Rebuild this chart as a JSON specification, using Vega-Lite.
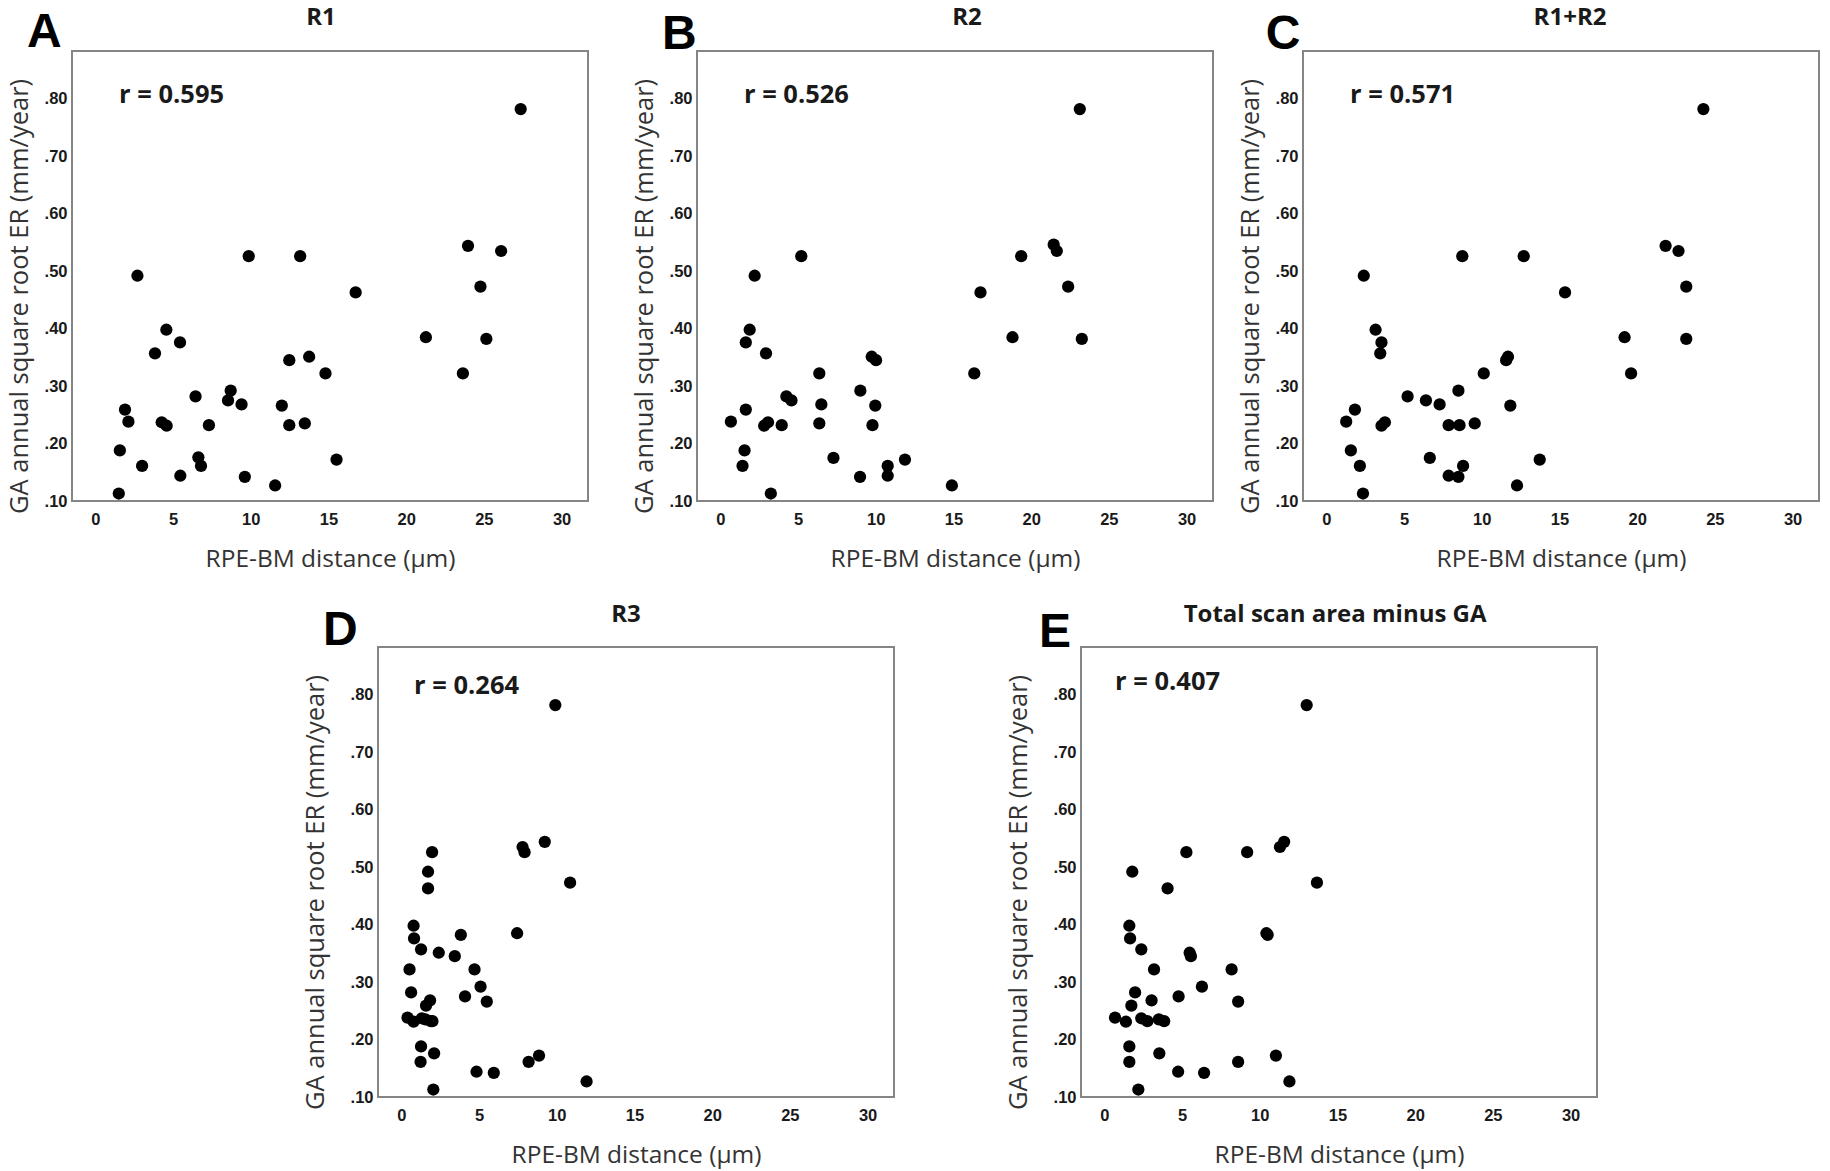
{
  "$schema": "https://vega.github.io/schema/vega-lite/v6.json",
  "background": "white",
  "padding": {"left": 5, "top": 4, "right": 5, "bottom": 5},
  "config": {
    "view": {"stroke": "#858585", "strokeWidth": 2},
    "axis": {"grid": false, "ticks": false, "domain": false, "labelFont": "Liberation Sans", "labelFontWeight": "bold", "labelFontSize": 16.5, "labelColor": "#1a1a1a", "titleFont": "Open Sans", "titleFontWeight": "normal", "titleFontSize": 24.5, "titleColor": "#333333"},
    "axisY": {"titleFontSize": 25.5},
    "text": {"color": "#1a1a1a"}
  },
  "datasets": {
    "pts": [
      {"panel":"A","distance":27.37,"er":0.782},{"panel":"A","distance":23.98,"er":0.544},{"panel":"A","distance":26.11,"er":0.535},{"panel":"A","distance":9.87,"er":0.526},{"panel":"A","distance":13.18,"er":0.526},{"panel":"A","distance":2.71,"er":0.492},{"panel":"A","distance":24.78,"er":0.473},{"panel":"A","distance":16.75,"er":0.463},{"panel":"A","distance":4.57,"er":0.398},{"panel":"A","distance":5.45,"er":0.376},{"panel":"A","distance":21.27,"er":0.385},{"panel":"A","distance":25.16,"er":0.382},{"panel":"A","distance":3.84,"er":0.357},{"panel":"A","distance":13.76,"er":0.351},{"panel":"A","distance":12.48,"er":0.345},{"panel":"A","distance":14.81,"er":0.322},{"panel":"A","distance":23.65,"er":0.322},{"panel":"A","distance":6.45,"er":0.282},{"panel":"A","distance":8.71,"er":0.292},{"panel":"A","distance":8.54,"er":0.275},{"panel":"A","distance":9.41,"er":0.268},{"panel":"A","distance":12.0,"er":0.266},{"panel":"A","distance":1.91,"er":0.259},{"panel":"A","distance":2.13,"er":0.238},{"panel":"A","distance":4.27,"er":0.237},{"panel":"A","distance":4.59,"er":0.231},{"panel":"A","distance":7.31,"er":0.232},{"panel":"A","distance":12.48,"er":0.232},{"panel":"A","distance":13.48,"er":0.235},{"panel":"A","distance":1.58,"er":0.188},{"panel":"A","distance":6.63,"er":0.176},{"panel":"A","distance":6.80,"er":0.161},{"panel":"A","distance":3.01,"er":0.161},{"panel":"A","distance":15.52,"er":0.172},{"panel":"A","distance":5.47,"er":0.144},{"panel":"A","distance":9.62,"er":0.142},{"panel":"A","distance":11.57,"er":0.127},{"panel":"A","distance":1.51,"er":0.113},
      {"panel":"B","distance":23.13,"er":0.782},{"panel":"B","distance":21.45,"er":0.546},{"panel":"B","distance":21.65,"er":0.535},{"panel":"B","distance":19.36,"er":0.526},{"panel":"B","distance":5.21,"er":0.526},{"panel":"B","distance":2.21,"er":0.492},{"panel":"B","distance":22.38,"er":0.473},{"panel":"B","distance":16.74,"er":0.463},{"panel":"B","distance":1.89,"er":0.398},{"panel":"B","distance":1.64,"er":0.376},{"panel":"B","distance":18.80,"er":0.385},{"panel":"B","distance":23.26,"er":0.382},{"panel":"B","distance":2.94,"er":0.357},{"panel":"B","distance":9.74,"er":0.351},{"panel":"B","distance":10.02,"er":0.345},{"panel":"B","distance":6.37,"er":0.322},{"panel":"B","distance":16.34,"er":0.322},{"panel":"B","distance":9.01,"er":0.292},{"panel":"B","distance":4.25,"er":0.282},{"panel":"B","distance":4.58,"er":0.275},{"panel":"B","distance":6.50,"er":0.268},{"panel":"B","distance":9.97,"er":0.266},{"panel":"B","distance":1.64,"er":0.259},{"panel":"B","distance":0.68,"er":0.238},{"panel":"B","distance":3.07,"er":0.237},{"panel":"B","distance":2.82,"er":0.231},{"panel":"B","distance":3.95,"er":0.232},{"panel":"B","distance":6.37,"er":0.235},{"panel":"B","distance":9.79,"er":0.232},{"panel":"B","distance":1.56,"er":0.188},{"panel":"B","distance":7.28,"er":0.175},{"panel":"B","distance":1.43,"er":0.161},{"panel":"B","distance":10.77,"er":0.161},{"panel":"B","distance":11.88,"er":0.172},{"panel":"B","distance":10.77,"er":0.144},{"panel":"B","distance":8.99,"er":0.142},{"panel":"B","distance":14.90,"er":0.127},{"panel":"B","distance":3.25,"er":0.113},
      {"panel":"C","distance":24.26,"er":0.782},{"panel":"C","distance":21.83,"er":0.544},{"panel":"C","distance":22.66,"er":0.535},{"panel":"C","distance":8.75,"er":0.526},{"panel":"C","distance":12.70,"er":0.526},{"panel":"C","distance":2.41,"er":0.492},{"panel":"C","distance":23.16,"er":0.473},{"panel":"C","distance":15.36,"er":0.463},{"panel":"C","distance":3.17,"er":0.398},{"panel":"C","distance":3.55,"er":0.376},{"panel":"C","distance":19.19,"er":0.385},{"panel":"C","distance":23.16,"er":0.382},{"panel":"C","distance":3.47,"er":0.357},{"panel":"C","distance":11.69,"er":0.351},{"panel":"C","distance":11.57,"er":0.345},{"panel":"C","distance":10.13,"er":0.322},{"panel":"C","distance":19.61,"er":0.322},{"panel":"C","distance":8.50,"er":0.292},{"panel":"C","distance":5.23,"er":0.282},{"panel":"C","distance":6.41,"er":0.275},{"panel":"C","distance":7.29,"er":0.268},{"panel":"C","distance":11.84,"er":0.266},{"panel":"C","distance":1.84,"er":0.259},{"panel":"C","distance":1.28,"er":0.238},{"panel":"C","distance":3.77,"er":0.237},{"panel":"C","distance":3.55,"er":0.231},{"panel":"C","distance":7.87,"er":0.232},{"panel":"C","distance":8.57,"er":0.232},{"panel":"C","distance":9.55,"er":0.235},{"panel":"C","distance":1.58,"er":0.188},{"panel":"C","distance":6.66,"er":0.175},{"panel":"C","distance":2.16,"er":0.161},{"panel":"C","distance":8.80,"er":0.161},{"panel":"C","distance":13.73,"er":0.172},{"panel":"C","distance":7.87,"er":0.144},{"panel":"C","distance":8.50,"er":0.142},{"panel":"C","distance":12.27,"er":0.127},{"panel":"C","distance":2.36,"er":0.113},
      {"panel":"D","distance":9.91,"er":0.782},{"panel":"D","distance":9.23,"er":0.544},{"panel":"D","distance":7.80,"er":0.535},{"panel":"D","distance":7.93,"er":0.526},{"panel":"D","distance":1.98,"er":0.526},{"panel":"D","distance":1.72,"er":0.492},{"panel":"D","distance":10.86,"er":0.473},{"panel":"D","distance":1.72,"er":0.463},{"panel":"D","distance":0.79,"er":0.398},{"panel":"D","distance":7.45,"er":0.385},{"panel":"D","distance":3.83,"er":0.382},{"panel":"D","distance":0.82,"er":0.376},{"panel":"D","distance":1.27,"er":0.357},{"panel":"D","distance":2.41,"er":0.351},{"panel":"D","distance":3.44,"er":0.345},{"panel":"D","distance":0.53,"er":0.322},{"panel":"D","distance":4.71,"er":0.322},{"panel":"D","distance":5.10,"er":0.292},{"panel":"D","distance":0.63,"er":0.282},{"panel":"D","distance":4.10,"er":0.275},{"panel":"D","distance":1.85,"er":0.268},{"panel":"D","distance":5.50,"er":0.266},{"panel":"D","distance":1.59,"er":0.259},{"panel":"D","distance":0.40,"er":0.238},{"panel":"D","distance":1.32,"er":0.237},{"panel":"D","distance":0.79,"er":0.231},{"panel":"D","distance":1.90,"er":0.232},{"panel":"D","distance":1.55,"er":0.235},{"panel":"D","distance":2.00,"er":0.232},{"panel":"D","distance":1.27,"er":0.188},{"panel":"D","distance":2.11,"er":0.176},{"panel":"D","distance":8.86,"er":0.172},{"panel":"D","distance":1.24,"er":0.161},{"panel":"D","distance":8.19,"er":0.161},{"panel":"D","distance":4.84,"er":0.144},{"panel":"D","distance":5.95,"er":0.142},{"panel":"D","distance":11.92,"er":0.127},{"panel":"D","distance":2.06,"er":0.113},
      {"panel":"E","distance":13.02,"er":0.782},{"panel":"E","distance":11.57,"er":0.544},{"panel":"E","distance":11.30,"er":0.535},{"panel":"E","distance":5.28,"er":0.526},{"panel":"E","distance":9.19,"er":0.526},{"panel":"E","distance":1.80,"er":0.492},{"panel":"E","distance":13.68,"er":0.473},{"panel":"E","distance":4.07,"er":0.463},{"panel":"E","distance":1.61,"er":0.398},{"panel":"E","distance":10.43,"er":0.385},{"panel":"E","distance":10.51,"er":0.382},{"panel":"E","distance":1.66,"er":0.376},{"panel":"E","distance":2.38,"er":0.357},{"panel":"E","distance":5.49,"er":0.351},{"panel":"E","distance":5.57,"er":0.345},{"panel":"E","distance":3.20,"er":0.322},{"panel":"E","distance":8.19,"er":0.322},{"panel":"E","distance":6.28,"er":0.292},{"panel":"E","distance":1.98,"er":0.282},{"panel":"E","distance":4.78,"er":0.275},{"panel":"E","distance":3.04,"er":0.268},{"panel":"E","distance":8.61,"er":0.266},{"panel":"E","distance":1.74,"er":0.259},{"panel":"E","distance":0.69,"er":0.238},{"panel":"E","distance":2.38,"er":0.237},{"panel":"E","distance":1.39,"er":0.231},{"panel":"E","distance":2.77,"er":0.232},{"panel":"E","distance":3.51,"er":0.235},{"panel":"E","distance":3.85,"er":0.232},{"panel":"E","distance":1.61,"er":0.188},{"panel":"E","distance":3.54,"er":0.176},{"panel":"E","distance":11.04,"er":0.172},{"panel":"E","distance":1.61,"er":0.161},{"panel":"E","distance":8.61,"er":0.161},{"panel":"E","distance":4.75,"er":0.144},{"panel":"E","distance":6.42,"er":0.142},{"panel":"E","distance":11.91,"er":0.127},{"panel":"E","distance":2.19,"er":0.113}
    ]
  },
  "spacing": 29,
  "vconcat": [
    {
      "bounds": "flush",
      "spacing": 109,
      "hconcat": [
        {
          "width": 516, "height": 450,
          "layer": [
            {"data": {"name": "pts"}, "transform": [{"filter": "datum.panel == 'A'"}],
             "mark": {"type": "point", "filled": true, "size": 150, "color": "#000000", "opacity": 1},
             "encoding": {
               "x": {"field": "distance", "type": "quantitative", "scale": {"domain": [-1.5, 31.7], "nice": false, "zero": false}, "axis": {"values": [0,5,10,15,20,25,30], "title": "RPE-BM distance (µm)", "labelPadding": 10, "titlePadding": 20}},
               "y": {"field": "er", "type": "quantitative", "scale": {"domain": [0.1, 0.883], "nice": false, "zero": false}, "axis": {"values": [0.1,0.2,0.3,0.4,0.5,0.6,0.7,0.8], "labelExpr": "'.' + format(datum.value*100, '.0f')", "title": "GA annual square root ER (mm/year)", "titleX": -53, "titleY": 245, "titleAngle": -90, "titleBaseline": "middle", "titleAlign": "center", "labelPadding": 5}}
             }},
            {"data": {"values": [{"label": "R1"}]},
             "mark": {"type": "text", "align": "center", "baseline": "middle", "font": "Open Sans", "fontWeight": "bold", "fontSize": 24},
             "encoding": {"x": {"datum": 14.52}, "y": {"datum": 0.941}, "text": {"field": "label"}}},
            {"data": {"values": [{"label": "r = 0.595"}]},
             "mark": {"type": "text", "align": "left", "baseline": "middle", "font": "Open Sans", "fontWeight": "bold", "fontSize": 25.5},
             "encoding": {"x": {"datum": 1.53}, "y": {"datum": 0.807}, "text": {"field": "label"}}},
            {"data": {"values": [{"label": "A"}]},
             "mark": {"type": "text", "align": "left", "baseline": "alphabetic", "font": "Liberation Sans", "fontWeight": "bold", "fontSize": 48, "color": "#000000"},
             "encoding": {"x": {"datum": -4.4}, "y": {"datum": 0.89}, "text": {"field": "label"}}}
          ]
        },
        {
          "bounds": "flush",
          "spacing": 90,
          "hconcat": [
            {
              "width": 516, "height": 450,
              "layer": [
                {"data": {"name": "pts"}, "transform": [{"filter": "datum.panel == 'B'"}],
                 "mark": {"type": "point", "filled": true, "size": 150, "color": "#000000", "opacity": 1},
                 "encoding": {
                   "x": {"field": "distance", "type": "quantitative", "scale": {"domain": [-1.5, 31.7], "nice": false, "zero": false}, "axis": {"values": [0,5,10,15,20,25,30], "title": "RPE-BM distance (µm)", "labelPadding": 10, "titlePadding": 20}},
                   "y": {"field": "er", "type": "quantitative", "scale": {"domain": [0.1, 0.883], "nice": false, "zero": false}, "axis": {"values": [0.1,0.2,0.3,0.4,0.5,0.6,0.7,0.8], "labelExpr": "'.' + format(datum.value*100, '.0f')", "title": "GA annual square root ER (mm/year)", "titleX": -53, "titleY": 245, "titleAngle": -90, "titleBaseline": "middle", "titleAlign": "center", "labelPadding": 5}}
                 }},
                {"data": {"values": [{"label": "R2"}]},
                 "mark": {"type": "text", "align": "center", "baseline": "middle", "font": "Open Sans", "fontWeight": "bold", "fontSize": 24},
                 "encoding": {"x": {"datum": 15.87}, "y": {"datum": 0.941}, "text": {"field": "label"}}},
                {"data": {"values": [{"label": "r = 0.526"}]},
                 "mark": {"type": "text", "align": "left", "baseline": "middle", "font": "Open Sans", "fontWeight": "bold", "fontSize": 25.5},
                 "encoding": {"x": {"datum": 1.52}, "y": {"datum": 0.807}, "text": {"field": "label"}}},
                {"data": {"values": [{"label": "B"}]},
                 "mark": {"type": "text", "align": "left", "baseline": "alphabetic", "font": "Liberation Sans", "fontWeight": "bold", "fontSize": 48, "color": "#000000"},
                 "encoding": {"x": {"datum": -3.75}, "y": {"datum": 0.887}, "text": {"field": "label"}}}
              ]
            },
            {
              "width": 516, "height": 450,
              "layer": [
                {"data": {"name": "pts"}, "transform": [{"filter": "datum.panel == 'C'"}],
                 "mark": {"type": "point", "filled": true, "size": 150, "color": "#000000", "opacity": 1},
                 "encoding": {
                   "x": {"field": "distance", "type": "quantitative", "scale": {"domain": [-1.5, 31.7], "nice": false, "zero": false}, "axis": {"values": [0,5,10,15,20,25,30], "title": "RPE-BM distance (µm)", "labelPadding": 10, "titlePadding": 20}},
                   "y": {"field": "er", "type": "quantitative", "scale": {"domain": [0.1, 0.883], "nice": false, "zero": false}, "axis": {"values": [0.1,0.2,0.3,0.4,0.5,0.6,0.7,0.8], "labelExpr": "'.' + format(datum.value*100, '.0f')", "title": "GA annual square root ER (mm/year)", "titleX": -53, "titleY": 245, "titleAngle": -90, "titleBaseline": "middle", "titleAlign": "center", "labelPadding": 5}}
                 }},
                {"data": {"values": [{"label": "R1+R2"}]},
                 "mark": {"type": "text", "align": "center", "baseline": "middle", "font": "Open Sans", "fontWeight": "bold", "fontSize": 24},
                 "encoding": {"x": {"datum": 15.68}, "y": {"datum": 0.941}, "text": {"field": "label"}}},
                {"data": {"values": [{"label": "r = 0.571"}]},
                 "mark": {"type": "text", "align": "left", "baseline": "middle", "font": "Open Sans", "fontWeight": "bold", "fontSize": 25.5},
                 "encoding": {"x": {"datum": 1.53}, "y": {"datum": 0.807}, "text": {"field": "label"}}},
                {"data": {"values": [{"label": "C"}]},
                 "mark": {"type": "text", "align": "left", "baseline": "alphabetic", "font": "Liberation Sans", "fontWeight": "bold", "fontSize": 48, "color": "#000000"},
                 "encoding": {"x": {"datum": -3.9}, "y": {"datum": 0.887}, "text": {"field": "label"}}}
              ]
            }
          ]
        }
      ]
    },
    {
      "bounds": "flush",
      "spacing": 10,
      "hconcat": [
        {"width": 296, "height": 1, "view": {"stroke": null}, "data": {"values": [{"label": ""}]}, "mark": {"type": "text"}, "encoding": {"text": {"field": "label"}}},
        {
          "bounds": "flush",
          "spacing": 187,
          "hconcat": [
            {
              "width": 516, "height": 450,
              "layer": [
                {"data": {"name": "pts"}, "transform": [{"filter": "datum.panel == 'D'"}],
                 "mark": {"type": "point", "filled": true, "size": 150, "color": "#000000", "opacity": 1},
                 "encoding": {
                   "x": {"field": "distance", "type": "quantitative", "scale": {"domain": [-1.5, 31.7], "nice": false, "zero": false}, "axis": {"values": [0,5,10,15,20,25,30], "title": "RPE-BM distance (µm)", "labelPadding": 10, "titlePadding": 20}},
                   "y": {"field": "er", "type": "quantitative", "scale": {"domain": [0.1, 0.883], "nice": false, "zero": false}, "axis": {"values": [0.1,0.2,0.3,0.4,0.5,0.6,0.7,0.8], "labelExpr": "'.' + format(datum.value*100, '.0f')", "title": "GA annual square root ER (mm/year)", "titleX": -63, "titleY": 245, "titleAngle": -90, "titleBaseline": "middle", "titleAlign": "center", "labelPadding": 5}}
                 }},
                {"data": {"values": [{"label": "R3"}]},
                 "mark": {"type": "text", "align": "center", "baseline": "middle", "font": "Open Sans", "fontWeight": "bold", "fontSize": 24},
                 "encoding": {"x": {"datum": 14.46}, "y": {"datum": 0.939}, "text": {"field": "label"}}},
                {"data": {"values": [{"label": "r = 0.264"}]},
                 "mark": {"type": "text", "align": "left", "baseline": "middle", "font": "Open Sans", "fontWeight": "bold", "fontSize": 25.5},
                 "encoding": {"x": {"datum": 0.82}, "y": {"datum": 0.815}, "text": {"field": "label"}}},
                {"data": {"values": [{"label": "D"}]},
                 "mark": {"type": "text", "align": "left", "baseline": "alphabetic", "font": "Liberation Sans", "fontWeight": "bold", "fontSize": 48, "color": "#000000"},
                 "encoding": {"x": {"datum": -5.04}, "y": {"datum": 0.886}, "text": {"field": "label"}}}
              ]
            },
            {
              "width": 516, "height": 450,
              "layer": [
                {"data": {"name": "pts"}, "transform": [{"filter": "datum.panel == 'E'"}],
                 "mark": {"type": "point", "filled": true, "size": 150, "color": "#000000", "opacity": 1},
                 "encoding": {
                   "x": {"field": "distance", "type": "quantitative", "scale": {"domain": [-1.5, 31.7], "nice": false, "zero": false}, "axis": {"values": [0,5,10,15,20,25,30], "title": "RPE-BM distance (µm)", "labelPadding": 10, "titlePadding": 20}},
                   "y": {"field": "er", "type": "quantitative", "scale": {"domain": [0.1, 0.883], "nice": false, "zero": false}, "axis": {"values": [0.1,0.2,0.3,0.4,0.5,0.6,0.7,0.8], "labelExpr": "'.' + format(datum.value*100, '.0f')", "title": "GA annual square root ER (mm/year)", "titleX": -63, "titleY": 245, "titleAngle": -90, "titleBaseline": "middle", "titleAlign": "center", "labelPadding": 5}}
                 }},
                {"data": {"values": [{"label": "Total scan area minus GA"}]},
                 "mark": {"type": "text", "align": "center", "baseline": "middle", "font": "Open Sans", "fontWeight": "bold", "fontSize": 24},
                 "encoding": {"x": {"datum": 14.85}, "y": {"datum": 0.939}, "text": {"field": "label"}}},
                {"data": {"values": [{"label": "r = 0.407"}]},
                 "mark": {"type": "text", "align": "left", "baseline": "middle", "font": "Open Sans", "fontWeight": "bold", "fontSize": 25.5},
                 "encoding": {"x": {"datum": 0.69}, "y": {"datum": 0.822}, "text": {"field": "label"}}},
                {"data": {"values": [{"label": "E"}]},
                 "mark": {"type": "text", "align": "left", "baseline": "alphabetic", "font": "Liberation Sans", "fontWeight": "bold", "fontSize": 48, "color": "#000000"},
                 "encoding": {"x": {"datum": -4.2}, "y": {"datum": 0.883}, "text": {"field": "label"}}}
              ]
            }
          ]
        }
      ]
    }
  ]
}
